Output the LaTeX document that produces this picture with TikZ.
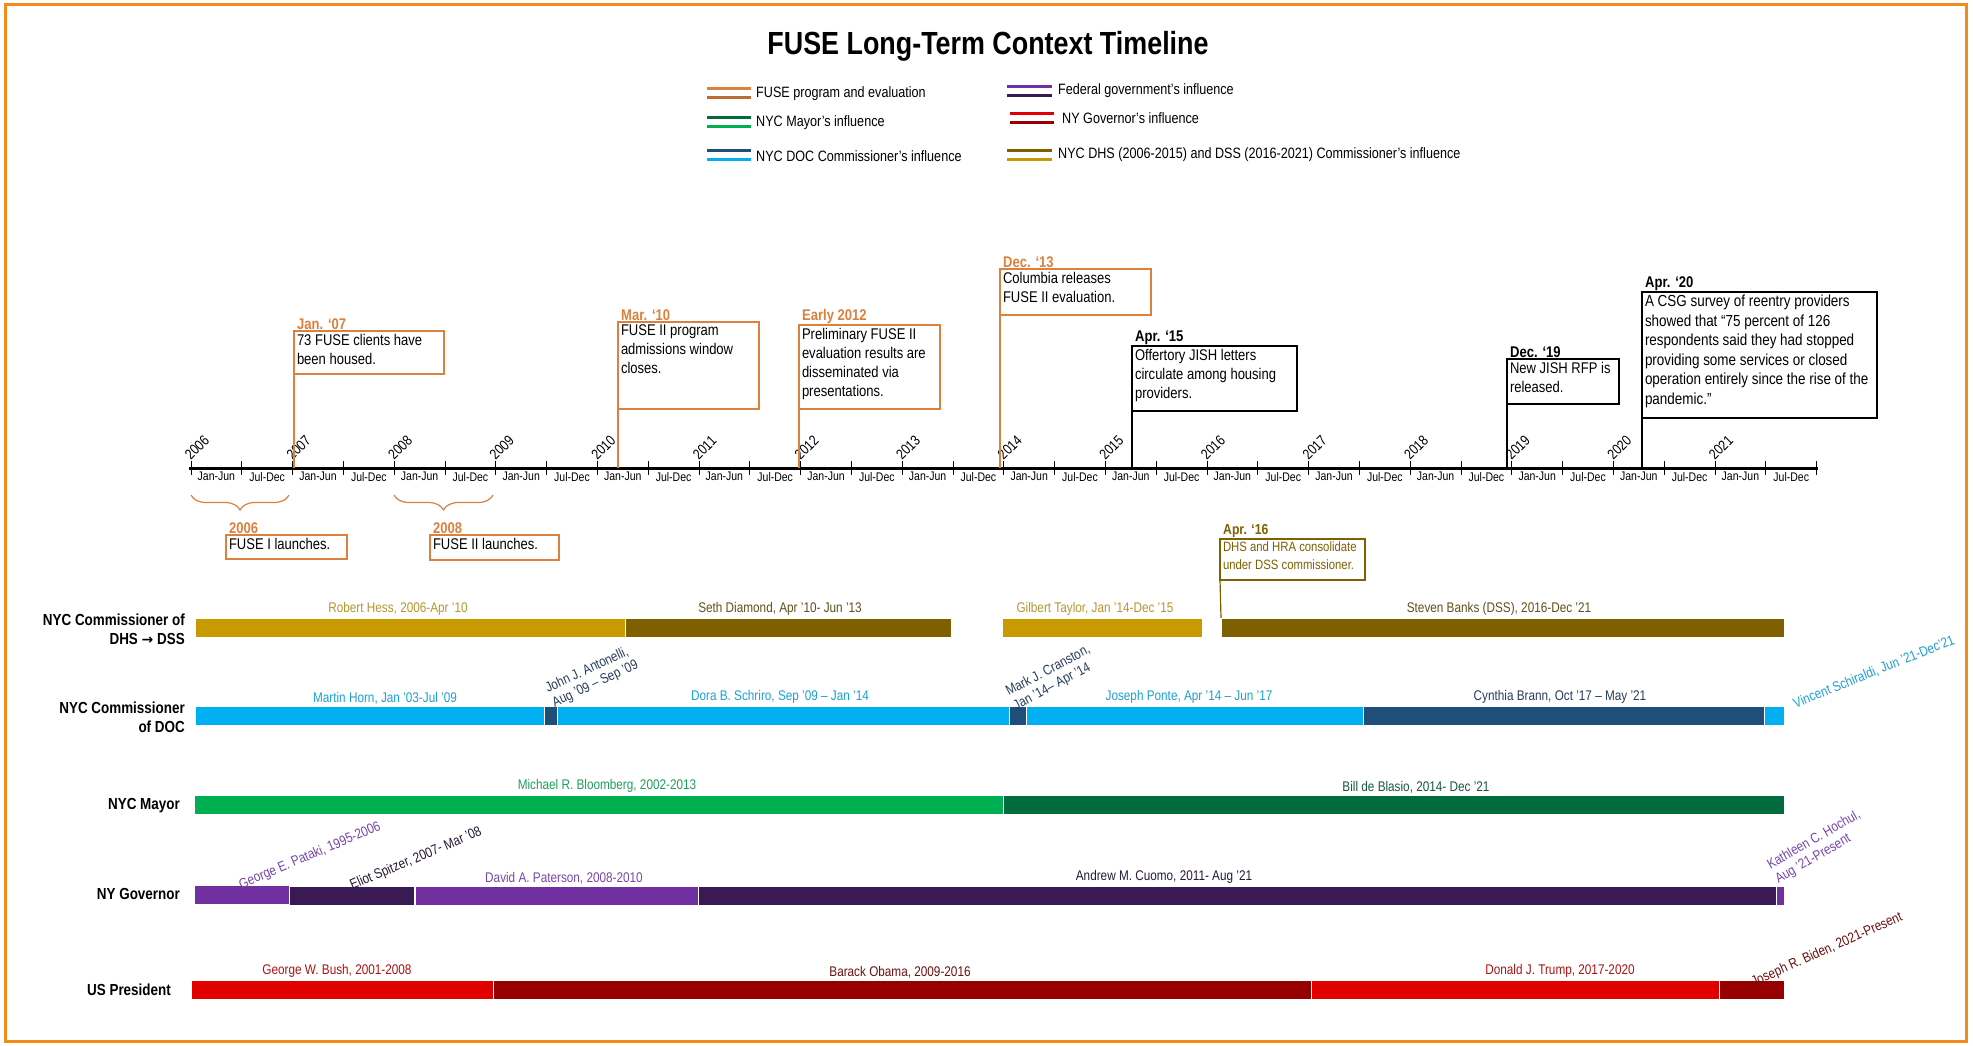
\documentclass[tikz,border=0pt]{standalone}
\usepackage{fontspec}
\setmainfont[FakeStretch=0.84]{Liberation Sans}
\newfontfamily\arrowfont{DejaVu Sans}
\usetikzlibrary{decorations.pathreplacing}
\definecolor{frameor}{RGB}{245,140,25}
\definecolor{fuse}{RGB}{220,128,62}
\definecolor{gold}{RGB}{199,154,0}
\definecolor{olive}{RGB}{127,96,0}
\definecolor{ltblue}{RGB}{0,176,240}
\definecolor{dkblue}{RGB}{31,78,121}
\definecolor{grn}{RGB}{0,176,80}
\definecolor{dkgrn}{RGB}{0,107,60}
\definecolor{purp}{RGB}{112,48,160}
\definecolor{dkpurp}{RGB}{58,26,82}
\definecolor{redA}{RGB}{224,0,0}
\definecolor{dkred}{RGB}{150,0,0}
\definecolor{goldtxt}{RGB}{180,150,50}
\definecolor{olivetxt}{RGB}{95,80,25}
\definecolor{bluetxt}{RGB}{30,160,210}
\definecolor{dkbluetxt}{RGB}{40,60,90}
\definecolor{grntxt}{RGB}{30,160,90}
\definecolor{dkgrntxt}{RGB}{20,90,60}
\definecolor{purptxt}{RGB}{120,70,170}
\definecolor{dkpurptxt}{RGB}{40,25,55}
\definecolor{redtxt}{RGB}{170,20,20}
\definecolor{dkredtxt}{RGB}{110,15,15}
\newcommand\tlbar[5]{\pgfmathsetmacro\tlw{#3-#2}\node[tlbarstyle, fill=#5, minimum width=\tlw pt] (#1) at (#2,#4) {};}
\newcommand\legsw[5]{\draw[swatch, #4] (#1,#3-4.5) -- (#2,#3-4.5); \draw[swatch, #5] (#1,#3+4.5) -- (#2,#3+4.5);}
\begin{document}
\begin{tikzpicture}[x=1pt,y=-1pt,
  tlbarstyle/.style={draw=white, line width=0.6pt, minimum height=19pt, inner sep=0pt, outer sep=0pt, anchor=north west},
  barlbl/.style={anchor=south, inner sep=1pt, font=\fontsize{14}{17}\selectfont},
  rotlbl/.style={inner sep=1pt, align=left, font=\fontsize{14}{16}\selectfont},
  rowlbl/.style={anchor=east, align=right, inner sep=0pt, font=\fontsize{16}{19}\selectfont\bfseries},
  evbox/.style={draw, line width=1.2pt, inner sep=3pt, outer sep=0pt, anchor=north west, font=\fontsize{15.5}{19}\selectfont},
  hdr/.style={anchor=south west, inner sep=1pt, xshift=2pt, font=\fontsize{15.5}{18}\selectfont\bfseries},
  evline/.style={line width=1.2pt},
  legtxt/.style={anchor=west, inner sep=0pt, font=\fontsize{15}{18}\selectfont},
  swatch/.style={line width=2.6pt},
  axlbl/.style={anchor=north, inner sep=0pt, font=\fontsize{12.5}{14}\selectfont},
  yrlbl/.style={anchor=south west, inner sep=0pt, rotate=45, font=\fontsize{14.5}{16}\selectfont},
  brc/.style={fuse, line width=1.2pt, decorate, decoration={brace, amplitude=15pt, mirror}}
]
\useasboundingbox (0,0) rectangle (1973,1045);
\fill[white] (0,0) rectangle (1973,1045);
\draw[frameor, line width=3pt] (5,4) rectangle (1966,1041);

% title
\node[font=\fontsize{32}{38}\selectfont\bfseries] (title) at (988,46) {FUSE Long-Term Context Timeline};

% legend
\legsw{707}{751}{93}{fuse}{fuse!85!black}
\node[legtxt] (lg1) at (756,94) {FUSE program and evaluation};
\legsw{707}{751}{122}{dkgrn}{grn}
\node[legtxt] (lg2) at (756,123) {NYC Mayor’s influence};
\legsw{707}{751}{155}{dkblue}{ltblue}
\node[legtxt] (lg3) at (756,156) {NYC DOC Commissioner’s influence};
\legsw{1007}{1052}{91}{purp}{dkpurp}
\node[legtxt] (lg4) at (1058,91) {Federal government’s influence};
\legsw{1010}{1054}{118}{redA}{dkred}
\node[legtxt] (lg5) at (1062,118) {NY Governor’s influence};
\legsw{1007}{1052}{155}{olive}{gold}
\node[legtxt] (lg6) at (1058,155) {NYC DHS (2006-2015) and DSS (2016-2021) Commissioner’s influence};

% axis
\coordinate (axL) at (189,468);
\coordinate (axR) at (1818,468);
\draw[line width=3pt] (axL) -- (axR);
\foreach \i in {0,...,32}{
  \draw[line width=1pt] ({191+\i*50.8},461) -- ({191+\i*50.8},475);
}
\foreach \i in {0,...,15}{
  \pgfmathtruncatemacro\yr{2006+\i}
  \node[yrlbl] (yr\i) at ({191+\i*101.6},461) {\yr};
  \node[axlbl] (ha\i) at ({191+\i*101.6+25.4},472) {Jan-Jun};
  \node[axlbl] (hb\i) at ({191+\i*101.6+76.2},472) {Jul-Dec};
}

% events above axis
\coordinate (t07) at (294,468);
\node[evbox, draw=fuse] (b07) at (294,331) {\parbox[t][37pt][t]{144pt}{\raggedright 73 FUSE clients have\\been housed.}};
\node[hdr, text=fuse] (h07) at (b07.north west) {Jan. ‘07};
\draw[evline, fuse] (t07) -- (b07.north west);

\coordinate (t10) at (618,468);
\node[evbox, draw=fuse] (b10) at (618,322) {\parbox[t][81pt][t]{135pt}{\raggedright FUSE II program\\admissions window\\closes.}};
\node[hdr, text=fuse] (h10) at (b10.north west) {Mar. ‘10};
\draw[evline, fuse] (t10) -- (b10.north west);

\coordinate (t12) at (799,468);
\node[evbox, draw=fuse] (b12) at (799,325) {\parbox[t][78pt][t]{135pt}{\raggedright Preliminary FUSE II\\evaluation results are\\disseminated via\\presentations.}};
\node[hdr, text=fuse] (h12) at (b12.north west) {Early 2012};
\draw[evline, fuse] (t12) -- (b12.north west);

\coordinate (t13) at (1000,468);
\node[evbox, draw=fuse] (b13) at (1000,269) {\parbox[t][40pt][t]{145pt}{\raggedright Columbia releases\\FUSE II evaluation.}};
\node[hdr, text=fuse] (h13) at (b13.north west) {Dec. ‘13};
\draw[evline, fuse] (t13) -- (b13.north west);

\coordinate (t15) at (1132,468);
\node[evbox] (b15) at (1132,346) {\parbox[t][59pt][t]{159pt}{\raggedright Offertory JISH letters\\circulate among housing\\providers.}};
\node[hdr] (h15) at (b15.north west) {Apr. ‘15};
\draw[evline] (t15) -- (b15.north west);

\coordinate (t19) at (1507,468);
\node[evbox] (b19) at (1507,359) {\parbox[t][39pt][t]{106pt}{\raggedright New JISH RFP is\\released.}};
\node[hdr] (h19) at (b19.north west) {Dec. ‘19};
\draw[evline] (t19) -- (b19.north west);

\coordinate (t20) at (1642,468);
\node[evbox, font=\fontsize{16}{19.5}\selectfont] (b20) at (1642,292) {\parbox[t][120pt][t]{229pt}{\raggedright A CSG survey of reentry providers\\showed that “75 percent of 126\\respondents said they had stopped\\providing some services or closed\\operation entirely since the rise of the\\pandemic.”}};
\node[hdr] (h20) at (b20.north west) {Apr. ‘20};
\draw[evline] (t20) -- (b20.north west);

% braces and launch boxes below axis
\coordinate (br06a) at (191,495);
\coordinate (br06b) at (289,495);
\draw[brc] (br06a) -- (br06b);
\node[evbox, draw=fuse] (b06) at (226,535) {\parbox[t][18pt][t]{115pt}{\raggedright FUSE I launches.}};
\node[hdr, text=fuse] (h06) at (b06.north west) {2006};

\coordinate (br08a) at (394,495);
\coordinate (br08b) at (493,495);
\draw[brc] (br08a) -- (br08b);
\node[evbox, draw=fuse] (b08) at (430,535) {\parbox[t][19pt][t]{123pt}{\raggedright FUSE II launches.}};
\node[hdr, text=fuse] (h08) at (b08.north west) {2008};

% row labels
\node[rowlbl] (r1) at (185,629) {NYC Commissioner of\\DHS {\arrowfont\fontsize{14}{16}\selectfont →} DSS};
\node[rowlbl] (r2) at (185,717) {NYC Commissioner\\of DOC};
\node[rowlbl] (r3) at (180,806) {NYC Mayor};
\node[rowlbl] (r4) at (180,894) {NY Governor};
\node[rowlbl] (r5) at (171,990) {US President};

% DHS / DSS bars
\tlbar{hess}{195}{625}{618}{gold}
\tlbar{diamond}{625}{951}{618}{olive}
\tlbar{taylor}{1002}{1202}{618}{gold}
\tlbar{banks}{1221}{1784}{618}{olive}
\node[barlbl, text=goldtxt] (hessL) at (398,617) {Robert Hess, 2006-Apr  ’10};
\node[barlbl, text=olivetxt] (diamondL) at (780,617) {Seth Diamond, Apr ’10- Jun ’13};
\node[barlbl, text=goldtxt] (taylorL) at (1095,617) {Gilbert Taylor, Jan ’14-Dec ’15};
\node[barlbl, text=olivetxt] (banksL) at (1499,617) {Steven Banks (DSS), 2016-Dec ’21};

\node[evbox, draw=olive, text=olive, font=\fontsize{13.5}{17.5}\selectfont] (b16) at (1220,539) {\parbox[t][35pt][t]{139pt}{\mbox{DHS and HRA consolidate}\\\mbox{under DSS commissioner.}}};
\node[hdr, text=olive, font=\fontsize{14.5}{17}\selectfont\bfseries] (h16) at (b16.north west) {Apr. ‘16};
\draw[evline, olive] (b16.south west) -- (banks.north west);

% DOC bars
\tlbar{horn}{195}{544}{706}{ltblue}
\tlbar{anton}{544}{557}{706}{dkblue}
\tlbar{schriro}{557}{1009}{706}{ltblue}
\tlbar{cranston}{1009}{1026}{706}{dkblue}
\tlbar{ponte}{1026}{1363}{706}{ltblue}
\tlbar{brann}{1363}{1764}{706}{dkblue}
\tlbar{schiraldi}{1764}{1784}{706}{ltblue}
\node[barlbl, text=bluetxt] (hornL) at (385,705) {Martin Horn, Jan ’03-Jul ’09};
\node[barlbl, text=bluetxt] (schriroL) at (780,705) {Dora B. Schriro, Sep ’09 – Jan ’14};
\node[barlbl, text=bluetxt] (ponteL) at (1189,705) {Joseph Ponte, Apr ’14 – Jun ’17};
\node[barlbl, text=dkbluetxt] (brannL) at (1560,705) {Cynthia Brann, Oct ’17 – May ’21};
\node[rotlbl, text=dkbluetxt, rotate=25] (antonL) at (592,677) {John J. Antonelli,\\Aug ’09 – Sep ’09};
\node[rotlbl, text=dkbluetxt, rotate=28] (cranstonL) at (1052,678) {Mark J. Cranston,\\Jan ’14– Apr ’14};
\node[rotlbl, text=bluetxt, rotate=22] (schiraldiL) at (1874,672) {Vincent Schiraldi, Jun ’21-Dec’21};

% Mayor bars
\tlbar{bloomberg}{194}{1003}{795}{grn}
\tlbar{deblasio}{1003}{1784}{795}{dkgrn}
\node[barlbl, text=grntxt] (bloombergL) at (607,794) {Michael R. Bloomberg, 2002-2013};
\node[barlbl, text=dkgrntxt] (deblasioL) at (1416,794) {Bill de Blasio, 2014- Dec ’21};

% Governor bars
\tlbar{pataki}{194}{289}{885}{purp}
\tlbar{spitzer}{289}{414}{886}{dkpurp}
\tlbar{paterson}{415}{698}{886}{purp}
\tlbar{cuomo}{698}{1776}{886}{dkpurp}
\tlbar{hochul}{1776}{1784}{886}{purp}
\node[barlbl, text=purptxt] (patersonL) at (564,885) {David A. Paterson, 2008-2010};
\node[barlbl, text=dkpurptxt] (cuomoL) at (1164,885) {Andrew M. Cuomo, 2011- Aug ’21};
\node[rotlbl, text=purptxt, rotate=23] (patakiL) at (310,856) {George E. Pataki, 1995-2006};
\node[rotlbl, text=dkpurptxt, rotate=23] (spitzerL) at (416,859) {Eliot Spitzer, 2007- Mar ’08};
\node[rotlbl, text=purptxt, rotate=30] (hochulL) at (1818,847) {Kathleen C. Hochul,\\Aug ’21-Present};

% President bars
\tlbar{bush}{191}{493}{980}{redA}
\tlbar{obama}{493}{1311}{980}{dkred}
\tlbar{trump}{1311}{1719}{980}{redA}
\tlbar{biden}{1719}{1784}{980}{dkred}
\node[barlbl, text=redtxt] (bushL) at (337,979) {George W. Bush, 2001-2008};
\node[barlbl, text=dkredtxt] (obamaL) at (900,979) {Barack Obama, 2009-2016};
\node[barlbl, text=redtxt] (trumpL) at (1560,979) {Donald J. Trump, 2017-2020};
\node[rotlbl, text=dkredtxt, rotate=24] (bidenL) at (1827,950) {Joseph R. Biden, 2021-Present};
\end{tikzpicture}
\end{document}
